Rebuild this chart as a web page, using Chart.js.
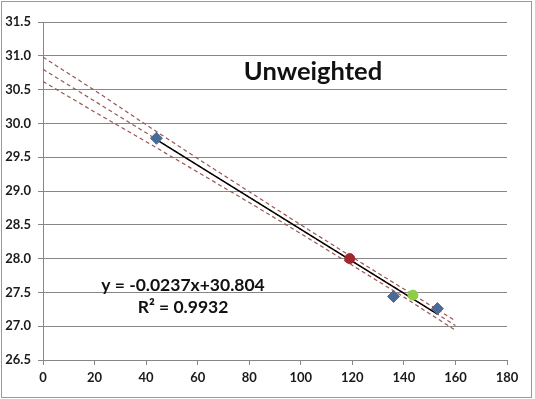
<!DOCTYPE html>
<html>
<head>
<meta charset="utf-8">
<script src="https://cdn.jsdelivr.net/npm/chart.js@4/dist/chart.umd.min.js"></script>
<style>
  html, body { margin: 0; padding: 0; background: #fff; }
  #wrap { width: 535px; height: 399px; position: relative; }
</style>
</head>
<body>
<div id="wrap"><canvas id="chart" width="535" height="399"></canvas></div>
<script>
// values
const blueX = [44, 136, 153];
const blueY = [29.78, 27.44, 27.26];
const redX = [119];
const redY = [28.0];
const greenX = [143.5];
const greenY = [27.46];

// solid trend line, drawn over the range of the data
const trendX = [44, 153];
const trendY = [29.76, 27.18];

// dashed fit line and its bands
const bandX = [0, 20, 40, 60, 80, 100, 120, 140, 160];
const fitY = [30.80, 30.33, 29.86, 29.38, 28.91, 28.43, 27.96, 27.49, 27.01];
const upperY = [30.98, 30.49, 29.98, 29.48, 28.99, 28.50, 28.02, 27.55, 27.08];
const lowerY = [30.62, 30.17, 29.73, 29.28, 28.83, 28.37, 27.90, 27.43, 26.94];

const title = 'Unweighted';
const eqLine1 = 'y = -0.0237x+30.804';
const eqLine2 = 'R² = 0.9932';

const toPts = (xs, ys) => xs.map((x, i) => ({ x: x, y: ys[i] }));

const gridColor = '#878787';
const dashColor = '#9a564f';
const font = 'Lato, "Open Sans", sans-serif';

const extras = {
  id: 'extras',
  afterDraw(chart) {
    const ctx = chart.ctx;
    ctx.save();
    // outer frame
    ctx.strokeStyle = '#9a9a9a';
    ctx.lineWidth = 1;
    ctx.strokeRect(1.5, 1.5, 530, 396);

    ctx.fillStyle = '#111';
    ctx.textAlign = 'center';
    ctx.textBaseline = 'middle';
    ctx.font = 'bold 25.5px ' + font;
    ctx.fillText(title, 313, 72);

    ctx.font = 'bold 17.5px ' + font;
    ctx.fillText(eqLine1, 183, 285);
    ctx.fillText(eqLine2, 183, 307);
    ctx.restore();
  }
};

const dashed = (label, ys) => ({
  label: label,
  data: toPts(bandX, ys),
  showLine: true,
  pointRadius: 0,
  borderColor: dashColor,
  borderWidth: 1.2,
  borderDash: [4, 3],
  order: 3
});

new Chart(document.getElementById('chart'), {
  type: 'scatter',
  data: {
    datasets: [
      {
        label: 'blue',
        data: toPts(blueX, blueY),
        pointStyle: 'rectRot',
        pointRadius: 6,
        backgroundColor: '#4a6b98',
        borderColor: '#4a6b98',
        order: 1
      },
      {
        label: 'red',
        data: toPts(redX, redY),
        pointRadius: 5,
        backgroundColor: '#a2262d',
        borderColor: '#a2262d',
        order: 1
      },
      {
        label: 'green',
        data: toPts(greenX, greenY),
        pointRadius: 5,
        backgroundColor: '#8ccf46',
        borderColor: '#8ccf46',
        order: 1
      },
      {
        label: 'trend',
        data: toPts(trendX, trendY),
        showLine: true,
        pointRadius: 0,
        borderColor: '#000',
        borderWidth: 1.5,
        order: 2
      },
      dashed('fit', fitY),
      dashed('upper', upperY),
      dashed('lower', lowerY)
    ]
  },
  options: {
    responsive: false,
    animation: false,
    events: [],
    layout: { padding: { left: 0, top: 22, right: 28, bottom: 0 } },
    plugins: {
      legend: { display: false },
      tooltip: { enabled: false }
    },
    scales: {
      x: {
        type: 'linear',
        min: 0,
        max: 180,
        afterFit(scale) { scale.height = 39; },
        ticks: {
          stepSize: 20,
          color: '#1a1a1a',
          padding: 5,
          font: { family: font, size: 13, weight: 'bold' }
        },
        grid: { drawOnChartArea: false, drawTicks: true, tickLength: 5, color: gridColor },
        border: { color: gridColor }
      },
      y: {
        min: 26.5,
        max: 31.5,
        afterFit(scale) { scale.width = 43; },
        ticks: {
          stepSize: 0.5,
          color: '#1a1a1a',
          padding: 7,
          callback: (v) => v.toFixed(1),
          font: { family: font, size: 13, weight: 'bold' }
        },
        grid: { color: gridColor, tickLength: 5 },
        border: { color: gridColor }
      }
    }
  },
  plugins: [extras]
});
</script>
</body>
</html>
